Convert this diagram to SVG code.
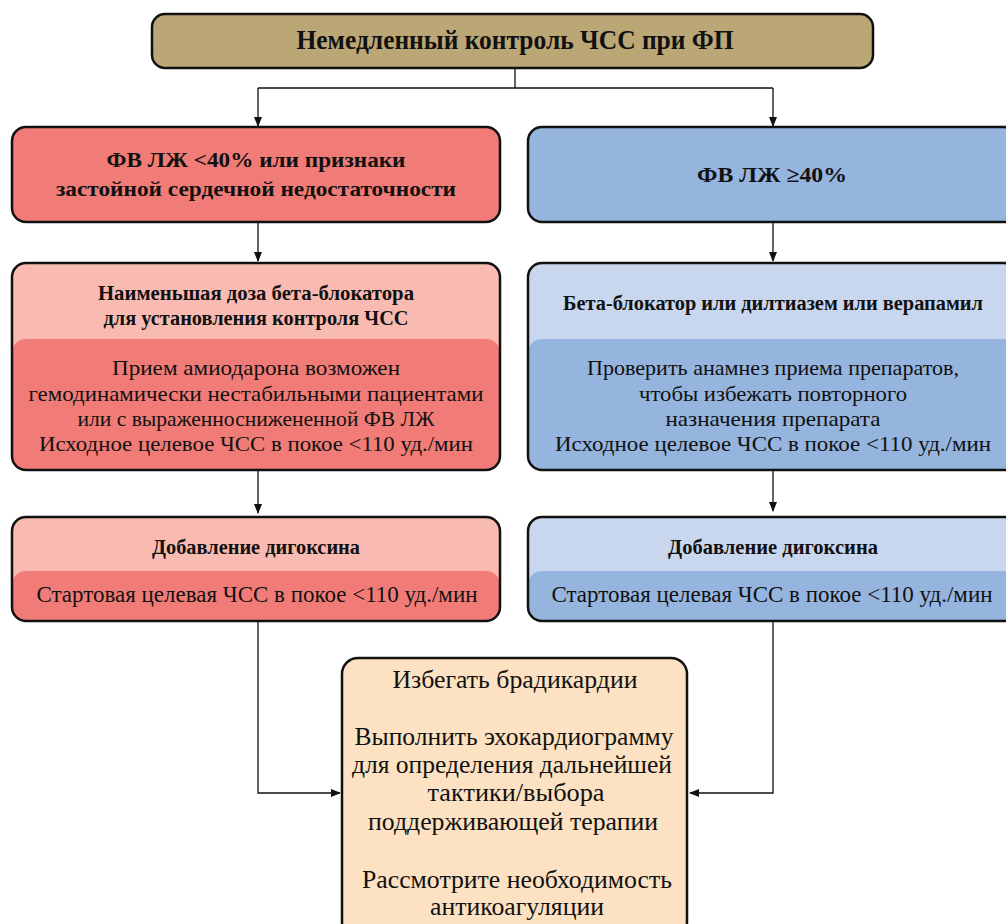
<svg xmlns="http://www.w3.org/2000/svg" width="1006" height="924" viewBox="0 0 1006 924">
<style>
.t{fill:#111;text-anchor:middle}
.b{font-weight:bold}
.outline{fill:none;stroke:#111;stroke-width:2.5}
.conn{fill:none;stroke:#111;stroke-width:1.3}
</style>
<defs>
<marker id="ah" markerWidth="10" markerHeight="10" refX="9" refY="5" orient="auto" markerUnits="userSpaceOnUse">
<path d="M0,1 L10,5 L0,9 Z" fill="#111"/>
</marker>
<clipPath id="c2l"><rect x="12" y="263" width="488" height="207" rx="14"/></clipPath>
<clipPath id="c2r"><rect x="528" y="263" width="490" height="207" rx="14"/></clipPath>
<clipPath id="c3l"><rect x="12" y="517" width="488" height="104" rx="14"/></clipPath>
<clipPath id="c3r"><rect x="528" y="517" width="490" height="104" rx="14"/></clipPath>
</defs>
<rect width="1006" height="924" fill="#fff"/>

<g id="connectors">
<path class="conn" d="M515,68 V88"/>
<path class="conn" d="M258,88 H773"/>
<path class="conn" d="M258,88 V126" marker-end="url(#ah)"/>
<path class="conn" d="M773,88 V126" marker-end="url(#ah)"/>
<path class="conn" d="M258,222 V261" marker-end="url(#ah)"/>
<path class="conn" d="M773,222 V261" marker-end="url(#ah)"/>
<path class="conn" d="M258,470 V513" marker-end="url(#ah)"/>
<path class="conn" d="M773,470 V511" marker-end="url(#ah)"/>
<path class="conn" d="M258,621 V793 H340" marker-end="url(#ah)"/>
<path class="conn" d="M773,621 V793 H690" marker-end="url(#ah)"/>
</g>

<g font-family="'Liberation Serif', 'Times New Roman', serif">
<g id="n-title">
<rect x="152" y="14" width="721" height="54" rx="13" fill="#BBA675"/>
<rect x="152" y="14" width="721" height="54" rx="13" class="outline"/>
<text class="t b" x="515" y="49" font-size="27" textLength="437" lengthAdjust="spacingAndGlyphs">Немедленный контроль ЧСС при ФП</text>
</g>

<g id="n-low-ef">
<rect x="12" y="127" width="488" height="95" rx="14" fill="#F17C77"/>
<rect x="12" y="127" width="488" height="95" rx="14" class="outline"/>
<text class="t b" x="256" y="167" font-size="22" textLength="299" lengthAdjust="spacingAndGlyphs">ФВ ЛЖ &lt;40% или признаки</text>
<text class="t b" x="256" y="196" font-size="22" textLength="400" lengthAdjust="spacingAndGlyphs">застойной сердечной недостаточности</text>
</g>

<g id="n-high-ef">
<rect x="528" y="127" width="490" height="95" rx="14" fill="#95B4DE"/>
<rect x="528" y="127" width="490" height="95" rx="14" class="outline"/>
<text class="t b" x="772" y="182" font-size="22" textLength="150" lengthAdjust="spacingAndGlyphs">ФВ ЛЖ ≥40%</text>
</g>

<g id="n-bb-left">
<g clip-path="url(#c2l)">
<rect x="12" y="263" width="488" height="207" fill="#F9BAB1"/>
<rect x="12" y="339" width="488" height="150" rx="14" fill="#F17C77"/>
</g>
<rect x="12" y="263" width="488" height="207" rx="14" class="outline"/>
<text class="t b" x="256" y="300" font-size="20" textLength="316" lengthAdjust="spacingAndGlyphs">Наименьшая доза бета-блокатора</text>
<text class="t b" x="256" y="325" font-size="20" textLength="305" lengthAdjust="spacingAndGlyphs">для установления контроля ЧСС</text>
<text class="t" x="256" y="375" font-size="22" textLength="288" lengthAdjust="spacingAndGlyphs">Прием амиодарона возможен</text>
<text class="t" x="256" y="401" font-size="22" textLength="455" lengthAdjust="spacingAndGlyphs">гемодинамически нестабильными пациентами</text>
<text class="t" x="256" y="426" font-size="22" textLength="357" lengthAdjust="spacingAndGlyphs">или с выраженноснижененной ФВ ЛЖ</text>
<text class="t" x="256" y="451" font-size="22" textLength="434" lengthAdjust="spacingAndGlyphs">Исходное целевое ЧСС в покое &lt;110 уд./мин</text>
</g>

<g id="n-bb-right">
<g clip-path="url(#c2r)">
<rect x="528" y="263" width="490" height="207" fill="#C8D6EE"/>
<rect x="528" y="339" width="490" height="150" rx="14" fill="#95B4DE"/>
</g>
<rect x="528" y="263" width="490" height="207" rx="14" class="outline"/>
<text class="t b" x="773" y="310" font-size="20" textLength="420" lengthAdjust="spacingAndGlyphs">Бета-блокатор или дилтиазем или верапамил</text>
<text class="t" x="773" y="375" font-size="22" textLength="372" lengthAdjust="spacingAndGlyphs">Проверить анамнез приема препаратов,</text>
<text class="t" x="773" y="401" font-size="22" textLength="268" lengthAdjust="spacingAndGlyphs">чтобы избежать повторного</text>
<text class="t" x="773" y="426" font-size="22" textLength="215" lengthAdjust="spacingAndGlyphs">назначения препарата</text>
<text class="t" x="773" y="451" font-size="22" textLength="436" lengthAdjust="spacingAndGlyphs">Исходное целевое ЧСС в покое &lt;110 уд./мин</text>
</g>

<g id="n-dig-left">
<g clip-path="url(#c3l)">
<rect x="12" y="517" width="488" height="104" fill="#F9BAB1"/>
<rect x="12" y="571" width="488" height="70" rx="14" fill="#F17C77"/>
</g>
<rect x="12" y="517" width="488" height="104" rx="14" class="outline"/>
<text class="t b" x="256" y="554" font-size="21" textLength="208" lengthAdjust="spacingAndGlyphs">Добавление дигоксина</text>
<text class="t" x="257" y="602" font-size="24" textLength="441" lengthAdjust="spacingAndGlyphs">Стартовая целевая ЧСС в покое &lt;110 уд./мин</text>
</g>

<g id="n-dig-right">
<g clip-path="url(#c3r)">
<rect x="528" y="517" width="490" height="104" fill="#C8D6EE"/>
<rect x="528" y="571" width="490" height="70" rx="14" fill="#95B4DE"/>
</g>
<rect x="528" y="517" width="490" height="104" rx="14" class="outline"/>
<text class="t b" x="773" y="554" font-size="21" textLength="210" lengthAdjust="spacingAndGlyphs">Добавление дигоксина</text>
<text class="t" x="772" y="602" font-size="24" textLength="441" lengthAdjust="spacingAndGlyphs">Стартовая целевая ЧСС в покое &lt;110 уд./мин</text>
</g>

<g id="n-final">
<rect x="342" y="658" width="345" height="280" rx="16" fill="#FCE1C2"/>
<rect x="342" y="658" width="345" height="280" rx="16" class="outline"/>
<text class="t" x="515" y="688" font-size="25" textLength="245" lengthAdjust="spacingAndGlyphs">Избегать брадикардии</text>
<text class="t" x="514" y="745" font-size="25" textLength="319" lengthAdjust="spacingAndGlyphs">Выполнить эхокардиограмму</text>
<text class="t" x="512" y="773" font-size="25" textLength="320" lengthAdjust="spacingAndGlyphs">для определения дальнейшей</text>
<text class="t" x="516" y="801" font-size="25" textLength="177" lengthAdjust="spacingAndGlyphs">тактики/выбора</text>
<text class="t" x="513" y="830" font-size="25" textLength="290" lengthAdjust="spacingAndGlyphs">поддерживающей терапии</text>
<text class="t" x="517" y="888" font-size="25" textLength="310" lengthAdjust="spacingAndGlyphs">Рассмотрите необходимость</text>
<text class="t" x="517" y="915" font-size="25" textLength="174" lengthAdjust="spacingAndGlyphs">антикоагуляции</text>
</g>
</g>
</svg>
